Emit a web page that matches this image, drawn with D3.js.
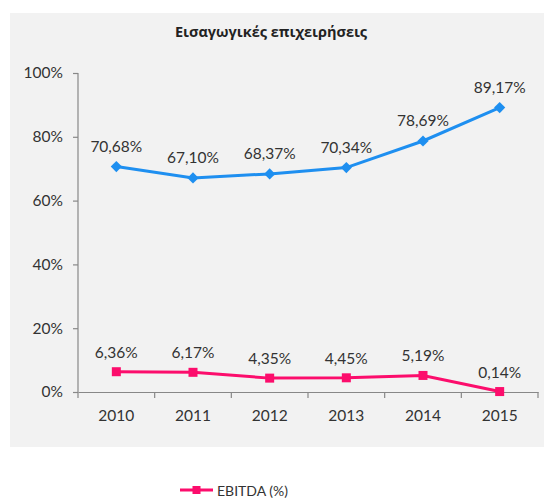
<!DOCTYPE html>
<html>
<head>
<meta charset="utf-8">
<script src="https://cdn.jsdelivr.net/npm/d3@7"></script>
<style>
  body { margin: 0; background: #fff; }
  text { font-family: Lato, "Open Sans", sans-serif; fill: #333; }
</style>
</head>
<body>
<script>
var years = ['2010', '2011', '2012', '2013', '2014', '2015'];
var topValues = [70.68, 67.10, 68.37, 70.34, 78.69, 89.17];
var ebitdaValues = [6.36, 6.17, 4.35, 4.45, 5.19, 0.14];
var yTicks = [0, 20, 40, 60, 80, 100];
var title = 'Εισαγωγικές επιχειρήσεις';
var legendLabel = 'EBITDA (%)';

var blue = '#1e8ff0';
var pink = '#fc0d6c';

buildPlot();

/* ===== BUILD PLOT ===== */

function buildPlot() {
  var w = 544;
  var h = 501;

  var svg = d3.select('body')
    .append('svg')
    .attr('width', w)
    .attr('height', h);

  // grey chart area
  svg.append('rect')
    .attr('x', 10)
    .attr('y', 13)
    .attr('width', w - 10)
    .attr('height', 434)
    .attr('fill', '#f2f2f2');

  svg.append('text')
    .attr('x', 271)
    .attr('y', 37)
    .attr('text-anchor', 'middle')
    .style('font-family', '"Open Sans", "Noto Sans", sans-serif')
    .style('font-weight', 'bold')
    .style('font-size', '14.5px')
    .style('fill', '#222')
    .text(title);

  /* ===== scales and axes ===== */

  var xScale = d3.scaleBand()
    .domain(years)
    .range([78, 538]);

  var yScale = d3.scaleLinear()
    .domain([0, 100])
    .range([392, 73]);

  var fmt = function(v) {
    return v.toFixed(2).replace('.', ',') + '%';
  };

  var yAxis = d3.axisLeft(yScale)
    .tickValues(yTicks)
    .tickSize(5)
    .tickPadding(10)
    .tickFormat(function(d) { return d + '%'; });

  var gy = svg.append('g')
    .attr('transform', 'translate(78,0)')
    .call(yAxis);

  var xAxis = d3.axisBottom(xScale)
    .tickSize(0)
    .tickPadding(18);

  var gx = svg.append('g')
    .attr('transform', 'translate(0,392)')
    .call(xAxis);

  // category separators on x axis
  var edges = years.map(function(d) { return xScale(d); }).concat([538]);
  gx.selectAll('.sep')
    .data(edges)
    .enter()
    .append('line')
    .attr('class', 'sep')
    .attr('x1', function(d) { return d; })
    .attr('x2', function(d) { return d; })
    .attr('y1', 0)
    .attr('y2', 6);

  [gx, gy].forEach(function(g) {
    g.select('.domain').attr('stroke', '#888').attr('stroke-width', 1.2);
    g.selectAll('line').attr('stroke', '#888').attr('stroke-width', 1.2);
    g.selectAll('text')
      .style('font-family', 'Lato, sans-serif')
      .style('font-size', '15.5px')
      .style('fill', '#333');
  });
  gy.select('.domain').attr('d', 'M0,' + yScale(100) + 'V' + yScale(0));

  var cx = function(d, i) { return xScale(years[i]) + xScale.bandwidth() / 2; };

  var line = d3.line()
    .x(function(d, i) { return cx(d, i); })
    .y(function(d) { return yScale(d); });

  /* ===== top series ===== */

  svg.append('path')
    .datum(topValues)
    .attr('d', line)
    .attr('fill', 'none')
    .attr('stroke', blue)
    .attr('stroke-width', 3);

  svg.selectAll('.diamond')
    .data(topValues)
    .enter()
    .append('path')
    .attr('class', 'diamond')
    .attr('d', d3.symbol().type(d3.symbolDiamond2).size(80))
    .attr('transform', function(d, i) {
      return 'translate(' + cx(d, i) + ',' + yScale(d) + ')';
    })
    .attr('fill', blue);

  svg.selectAll('.topLabel')
    .data(topValues)
    .enter()
    .append('text')
    .attr('class', 'topLabel')
    .attr('x', cx)
    .attr('y', function(d) { return yScale(d) - 15; })
    .attr('text-anchor', 'middle')
    .style('font-size', '15.5px')
    .text(fmt);

  /* ===== EBITDA ===== */

  svg.append('path')
    .datum(ebitdaValues)
    .attr('d', line)
    .attr('fill', 'none')
    .attr('stroke', pink)
    .attr('stroke-width', 3);

  svg.selectAll('.square')
    .data(ebitdaValues)
    .enter()
    .append('rect')
    .attr('class', 'square')
    .attr('x', function(d, i) { return cx(d, i) - 4.5; })
    .attr('y', function(d) { return yScale(d) - 4.5; })
    .attr('width', 9)
    .attr('height', 9)
    .attr('fill', pink);

  svg.selectAll('.ebLabel')
    .data(ebitdaValues)
    .enter()
    .append('text')
    .attr('class', 'ebLabel')
    .attr('x', cx)
    .attr('y', function(d) { return yScale(d) - 14; })
    .attr('text-anchor', 'middle')
    .style('font-size', '15.5px')
    .text(fmt);

  /* ===== legend ===== */

  var lg = svg.append('g').attr('transform', 'translate(180,490)');
  lg.append('line')
    .attr('x1', 0).attr('x2', 33)
    .attr('y1', 0).attr('y2', 0)
    .attr('stroke', pink)
    .attr('stroke-width', 3);
  lg.append('rect')
    .attr('x', 12.5).attr('y', -4)
    .attr('width', 8).attr('height', 8)
    .attr('fill', pink);
  lg.append('text')
    .attr('x', 37)
    .attr('y', 5.5)
    .style('font-size', '14px')
    .text(legendLabel);
}
</script>
</body>
</html>
